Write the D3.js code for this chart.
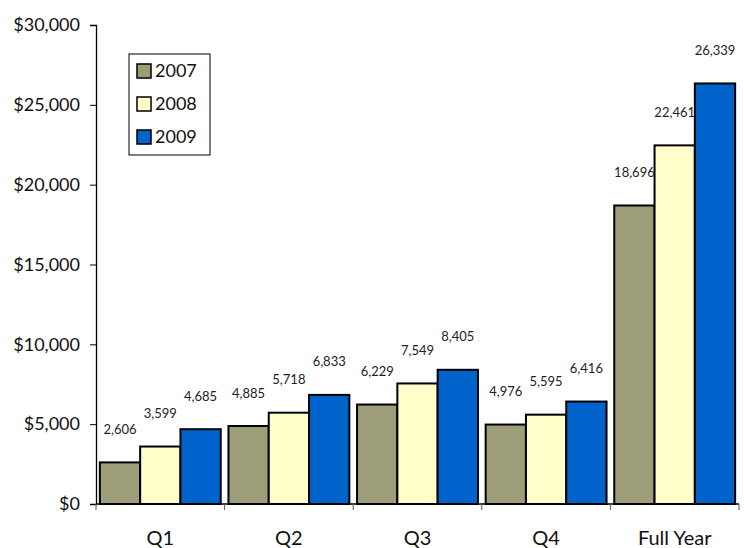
<!DOCTYPE html>
<html>
<head>
<meta charset="utf-8">
<script src="https://cdn.jsdelivr.net/npm/d3@7"></script>
<style>
  html, body { margin: 0; padding: 0; background: #fff; }
  svg { display: block; font-family: Lato, "Noto Sans", sans-serif; }
</style>
</head>
<body>
<svg id="chart" width="744" height="548"></svg>
<script>
// Quarterly and full-year totals by year
const categories = ["Q1", "Q2", "Q3", "Q4", "Full Year"];
const years = ["2007", "2008", "2009"];
const values2007 = [2606, 4885, 6229, 4976, 18696];
const values2008 = [3599, 5718, 7549, 5595, 22461];
const values2009 = [4685, 6833, 8405, 6416, 26339];
const yTicks = [0, 5000, 10000, 15000, 20000, 25000, 30000];
const colors = ["#9d9d78", "#ffffcc", "#0063cc"];

const seriesValues = [values2007, values2008, values2009];
const rows = categories.map((c, i) => ({
  category: c,
  bars: years.map((y, j) => ({ year: y, value: seriesValues[j][i], color: colors[j] }))
}));

const margin = { left: 96, right: 5, top: 25, bottom: 44 };
const width = 744, height = 548;
const svg = d3.select("#chart");

const x = d3.scaleBand()
  .domain(categories)
  .range([margin.left, width - margin.right])
  .paddingInner(0.06)
  .paddingOuter(0.03);

const xInner = d3.scaleBand()
  .domain(years)
  .range([0, x.bandwidth()]);

const y = d3.scaleLinear()
  .domain([0, 30000])
  .range([height - margin.bottom, margin.top]);

const fmt = d3.format(",");

// Bars
const groups = svg.append("g")
  .selectAll("g")
  .data(rows)
  .join("g")
  .attr("transform", d => `translate(${x(d.category)},0)`);

groups.selectAll("rect")
  .data(d => d.bars)
  .join("rect")
  .attr("x", d => xInner(d.year))
  .attr("y", d => y(d.value))
  .attr("width", xInner.bandwidth())
  .attr("height", d => y(0) - y(d.value))
  .attr("fill", d => d.color)
  .attr("stroke", "#000")
  .attr("stroke-width", 2);

// Value labels
groups.selectAll("text")
  .data(d => d.bars)
  .join("text")
  .attr("x", d => xInner(d.year) + xInner.bandwidth() / 2)
  .attr("y", d => y(d.value) - 33)
  .attr("dy", "0.35em")
  .attr("text-anchor", "middle")
  .attr("font-size", 13)
  .attr("fill", "#222")
  .text(d => fmt(d.value));

// Y axis
const yAxis = d3.axisLeft(y)
  .tickValues(yTicks)
  .tickSize(6)
  .tickPadding(10)
  .tickFormat(d => "$" + fmt(d));

const gy = svg.append("g")
  .attr("transform", `translate(${margin.left},0)`)
  .call(yAxis);
gy.select(".domain").attr("stroke", "#000").attr("stroke-width", 1.3);
gy.selectAll(".tick line").attr("stroke", "#000");
gy.selectAll(".tick text").attr("font-size", 18).attr("fill", "#111")
  .attr("font-family", "Lato, 'Noto Sans', sans-serif");

// X axis: baseline, separators between categories, category names
const xBase = y(0);
svg.append("line")
  .attr("x1", margin.left).attr("x2", width - margin.right)
  .attr("y1", xBase).attr("y2", xBase)
  .attr("stroke", "#000").attr("stroke-width", 1.3);

const boundaries = categories.map(c => x(c) - x.step() * x.paddingOuter())
  .concat([width - margin.right]);
svg.append("g")
  .selectAll("line")
  .data(boundaries)
  .join("line")
  .attr("x1", d => d).attr("x2", d => d)
  .attr("y1", xBase).attr("y2", xBase + 6)
  .attr("stroke", "#555").attr("stroke-width", 1);

svg.append("g")
  .selectAll("text")
  .data(categories)
  .join("text")
  .attr("x", d => x(d) + x.bandwidth() / 2)
  .attr("y", 538)
  .attr("dy", "0.35em")
  .attr("text-anchor", "middle")
  .attr("font-size", 20)
  .attr("fill", "#111")
  .text(d => d);

// Legend
const legend = svg.append("g").attr("transform", "translate(129,54)");
legend.append("rect")
  .attr("width", 81).attr("height", 101)
  .attr("fill", "#fff").attr("stroke", "#000").attr("stroke-width", 1);

const items = legend.selectAll("g.item")
  .data(years)
  .join("g")
  .attr("class", "item")
  .attr("transform", (d, i) => `translate(8,${17 + i * 33})`);

items.append("rect")
  .attr("x", 0).attr("y", -7)
  .attr("width", 14).attr("height", 14)
  .attr("fill", (d, i) => colors[i])
  .attr("stroke", "#000").attr("stroke-width", 1.5);

items.append("text")
  .attr("x", 18).attr("y", 0)
  .attr("dy", "0.35em")
  .attr("font-size", 18)
  .attr("fill", "#111")
  .text(d => d);
</script>
</body>
</html>
